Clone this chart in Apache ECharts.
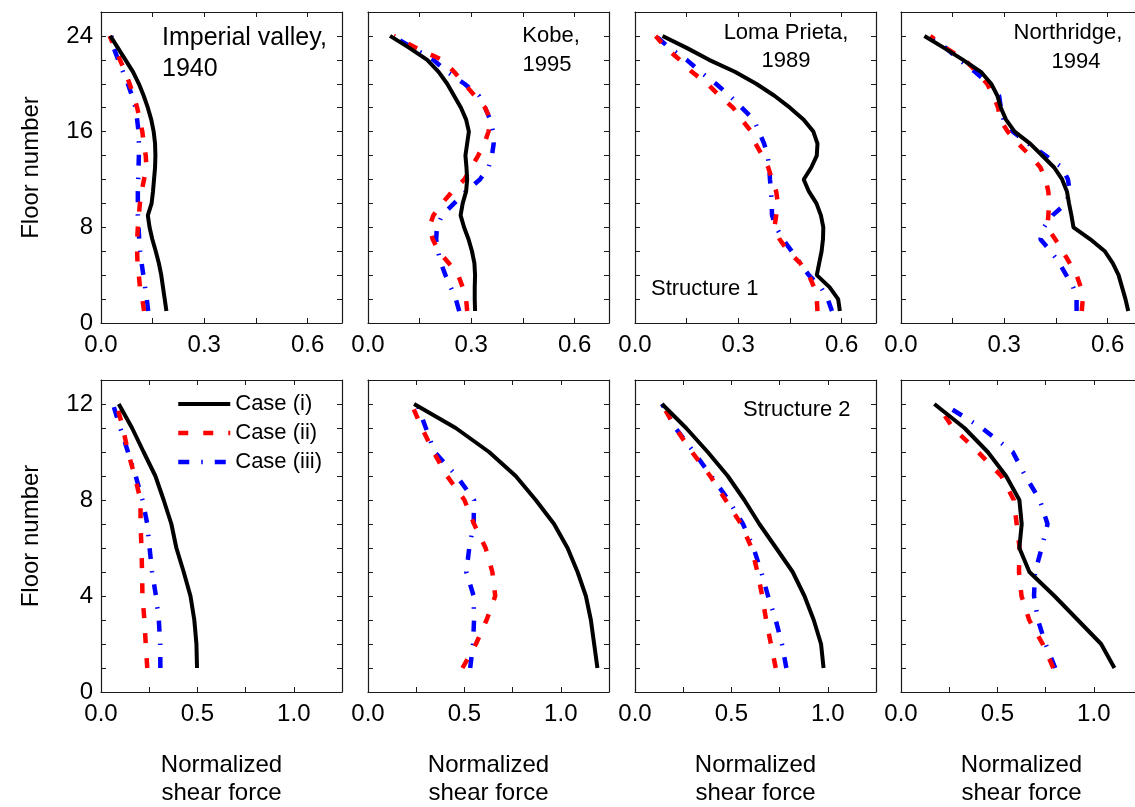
<!DOCTYPE html>
<html>
<head>
<meta charset="utf-8">
<title>Normalized shear force</title>
<script src="https://cdn.jsdelivr.net/npm/echarts@6/dist/echarts.min.js"></script>
<style>
    html, body { margin: 0; padding: 0; background: #fff; }
    #chart { width: 1135px; height: 807px; }
</style>
</head>
<body>
<div id="chart"></div>
<script>
    // floors
    var floorsTop = [1,2,3,4,5,6,7,8,9,10,11,12,13,14,15,16,17,18,19,20,21,22,23,24];
    var floorsBottom = [1,2,3,4,5,6,7,8,9,10,11,12];

    // tick labels
    var xLabelsTop = ['0.0', '0.3', '0.6'];
    var xLabelsBottom = ['0.0', '0.5', '1.0'];
    var yLabelsTop = ['0', '8', '16', '24'];
    var yLabelsBottom = ['0', '4', '8', '12'];

    var caseNames = ['Case (i)', 'Case (ii)', 'Case (iii)'];

    // Structure 1 (24 floors), values from floor 1 to floor 24
    var imperial_i   = [0.19,0.185,0.18,0.175,0.168,0.159,0.149,0.141,0.136,0.147,0.151,0.154,0.157,0.158,0.157,0.153,0.146,0.136,0.124,0.11,0.093,0.071,0.049,0.027];
    var imperial_ii  = [0.125,0.12,0.113,0.11,0.106,0.105,0.105,0.107,0.11,0.113,0.118,0.125,0.132,0.13,0.124,0.12,0.113,0.105,0.095,0.083,0.07,0.055,0.04,0.025];
    var imperial_iii = [0.137,0.133,0.128,0.123,0.118,0.114,0.111,0.109,0.107,0.107,0.107,0.108,0.109,0.11,0.11,0.109,0.105,0.1,0.09,0.078,0.064,0.05,0.037,0.03];

    var kobe_i   = [0.311,0.31,0.31,0.311,0.309,0.302,0.292,0.279,0.269,0.275,0.285,0.288,0.286,0.283,0.288,0.293,0.285,0.27,0.25,0.23,0.205,0.172,0.12,0.064];
    var kobe_ii  = [0.288,0.285,0.275,0.262,0.235,0.205,0.188,0.178,0.19,0.215,0.245,0.28,0.3,0.32,0.338,0.35,0.356,0.34,0.31,0.28,0.25,0.215,0.14,0.075];
    var kobe_iii = [0.265,0.255,0.24,0.225,0.212,0.203,0.198,0.2,0.215,0.25,0.285,0.325,0.35,0.36,0.365,0.363,0.355,0.34,0.322,0.28,0.23,0.19,0.13,0.07];

    var loma_i   = [0.595,0.59,0.565,0.528,0.535,0.542,0.546,0.547,0.54,0.527,0.505,0.49,0.512,0.528,0.53,0.518,0.49,0.45,0.405,0.352,0.29,0.215,0.15,0.08];
    var loma_ii  = [0.53,0.528,0.52,0.505,0.48,0.445,0.42,0.405,0.41,0.415,0.41,0.398,0.387,0.37,0.35,0.338,0.31,0.285,0.245,0.21,0.165,0.13,0.09,0.06];
    var loma_iii = [0.572,0.56,0.54,0.505,0.48,0.455,0.43,0.41,0.398,0.397,0.395,0.392,0.39,0.385,0.375,0.36,0.345,0.31,0.275,0.235,0.19,0.15,0.1,0.06];

    var north_i   = [0.66,0.652,0.642,0.632,0.615,0.592,0.55,0.501,0.495,0.488,0.482,0.468,0.445,0.41,0.375,0.33,0.305,0.29,0.28,0.262,0.232,0.18,0.125,0.068];
    var north_ii  = [0.525,0.528,0.522,0.51,0.49,0.47,0.448,0.425,0.428,0.43,0.428,0.42,0.405,0.375,0.34,0.31,0.288,0.282,0.268,0.25,0.22,0.185,0.13,0.085];
    var north_iii = [0.51,0.51,0.5,0.48,0.46,0.435,0.405,0.415,0.44,0.48,0.49,0.485,0.468,0.42,0.37,0.325,0.298,0.29,0.285,0.255,0.215,0.17,0.13,0.075];

    // Structure 2 (12 floors), values from floor 1 to floor 12
    var imperial2_i   = [0.498,0.495,0.484,0.464,0.429,0.391,0.365,0.325,0.282,0.221,0.161,0.092];
    var imperial2_ii  = [0.24,0.232,0.225,0.215,0.213,0.21,0.205,0.205,0.175,0.14,0.114,0.08];
    var imperial2_iii = [0.308,0.307,0.3,0.285,0.265,0.252,0.24,0.215,0.18,0.14,0.1,0.062];

    var kobe2_i   = [1.19,1.173,1.156,1.13,1.087,1.035,0.965,0.87,0.766,0.628,0.455,0.239];
    var kobe2_ii  = [0.49,0.56,0.615,0.66,0.645,0.61,0.55,0.5,0.41,0.34,0.28,0.225];
    var kobe2_iii = [0.53,0.545,0.55,0.548,0.51,0.525,0.548,0.55,0.46,0.345,0.3,0.255];

    var loma2_i   = [0.978,0.965,0.927,0.879,0.818,0.732,0.645,0.567,0.481,0.377,0.265,0.14];
    var loma2_ii  = [0.73,0.705,0.68,0.66,0.635,0.605,0.55,0.47,0.39,0.295,0.21,0.14];
    var loma2_iii = [0.785,0.762,0.73,0.69,0.655,0.615,0.56,0.485,0.395,0.305,0.21,0.14];

    var north2_i   = [1.107,1.038,0.917,0.796,0.666,0.614,0.626,0.614,0.545,0.45,0.329,0.173];
    var north2_ii  = [0.79,0.735,0.665,0.625,0.612,0.615,0.6,0.585,0.52,0.4,0.27,0.185];
    var north2_iii = [0.8,0.75,0.71,0.69,0.695,0.73,0.76,0.72,0.645,0.58,0.42,0.22];

    var panelData = [
        [imperial_i, imperial_ii, imperial_iii],
        [kobe_i, kobe_ii, kobe_iii],
        [loma_i, loma_ii, loma_iii],
        [north_i, north_ii, north_iii],
        [imperial2_i, imperial2_ii, imperial2_iii],
        [kobe2_i, kobe2_ii, kobe2_iii],
        [loma2_i, loma2_ii, loma2_iii],
        [north2_i, north2_ii, north2_iii]
    ];

    var FONT = 'Liberation Sans, Arial, Helvetica, sans-serif';
    var lefts = [101, 368, 635, 901];
    var colors = ['#000000', '#ff0000', '#0000ff'];
    var lineStyles = [
        { color: colors[0], width: 4, type: 'solid' },
        { color: colors[1], width: 4.5, type: [10, 15], cap: 'butt' },
        { color: colors[2], width: 4.5, type: [11, 12, 1.5, 12], cap: 'butt' }
    ];

    function inList(list, v) {
        for (var i = 0; i < list.length; i++) {
            if (Math.abs(parseFloat(list[i]) - v) < 1e-6) return list[i];
        }
        return '';
    }

    var grids = [], xAxes = [], yAxes = [], series = [];
    var axisColor = '#1a1a1a';

    for (var p = 0; p < 8; p++) {
        var row = p < 4 ? 0 : 1;
        var col = p % 4;
        grids.push({
            left: lefts[col], width: 241,
            top: row ? 380 : 12, height: row ? 312 : 311,
            outerBoundsMode: 'none', containLabel: false
        });
        var xMax = row ? 1.25 : 0.7, xStep = row ? 0.25 : 0.15;
        var yMax = row ? 13 : 26, yStep = row ? 1 : 2;
        var xLab = row ? xLabelsBottom : xLabelsTop;
        var yLab = row ? yLabelsBottom : yLabelsTop;
        var tick = { show: true, inside: true, length: 5, lineStyle: { color: axisColor, width: 1 } };
        var line = { show: true, onZero: false, lineStyle: { color: axisColor, width: 1.2 } };

        (function (xLab, yLab, col) {
            xAxes.push({
                gridIndex: p, type: 'value', position: 'bottom',
                min: 0, max: xMax, interval: xStep,
                axisLine: line, axisTick: tick, splitLine: { show: false },
                axisLabel: {
                    show: true, margin: 10, fontSize: 24, color: '#000', fontFamily: FONT,
                    showMaxLabel: true, showMinLabel: true,
                    formatter: function (v) { return inList(xLab, v); }
                },
                name: row ? 'Normalized\nshear force' : '',
                nameLocation: 'middle', nameGap: 59,
                nameTextStyle: { fontSize: 24, color: '#000', fontFamily: FONT, lineHeight: 28 }
            });
            xAxes.push({
                gridIndex: p, type: 'value', position: 'top',
                min: 0, max: xMax, interval: xStep,
                axisLine: line, axisTick: tick, splitLine: { show: false },
                axisLabel: { show: false }
            });
            yAxes.push({
                gridIndex: p, type: 'value', position: 'left',
                min: 0, max: yMax, interval: yStep,
                axisLine: line, axisTick: tick, splitLine: { show: false },
                axisLabel: {
                    show: col === 0, margin: 8, fontSize: 24, color: '#000', fontFamily: FONT,
                    formatter: function (v) { return inList(yLab, v); }
                },
                name: col === 0 ? 'Floor number' : '',
                nameLocation: 'middle', nameGap: 58,
                nameTextStyle: { fontSize: 24, color: '#000', fontFamily: FONT }
            });
            yAxes.push({
                gridIndex: p, type: 'value', position: 'right',
                min: 0, max: yMax, interval: yStep,
                axisLine: line, axisTick: tick, splitLine: { show: false },
                axisLabel: { show: false }
            });
        })(xLab, yLab, col);

        var floors = row ? floorsBottom : floorsTop;
        for (var c = 0; c < 3; c++) {
            var vals = panelData[p][c];
            series.push({
                name: caseNames[c],
                type: 'line',
                xAxisIndex: 2 * p,
                yAxisIndex: 2 * p,
                symbol: 'none',
                animation: false,
                z: 3 - c,
                itemStyle: { color: colors[c] },
                lineStyle: lineStyles[c],
                data: floors.map(function (f, k) { return [vals[k], f]; })
            });
        }
    }

    function label(x, y, text, size, align) {
        return {
            type: 'text', x: x, y: y, silent: true,
            style: {
                text: text, fontSize: size, fontFamily: FONT, fill: '#000',
                align: align || 'left', verticalAlign: 'middle'
            }
        };
    }

    var myChart = echarts.init(document.getElementById('chart'));
    var option = {
        backgroundColor: '#fff',
        animation: false,
        grid: grids,
        xAxis: xAxes,
        yAxis: yAxes,
        legend: {
            data: caseNames.map(function (n, c) {
                return { name: n, lineStyle: { width: lineStyles[c].width } };
            }),
            orient: 'vertical',
            left: 176, top: 393,
            padding: 0,
            itemWidth: 52, itemHeight: 14, itemGap: 7,
            // hide the symbol drawn in the middle of the line icon
            itemStyle: { opacity: 0, borderWidth: 0 },
            textStyle: { fontSize: 22, color: '#000', fontFamily: FONT, lineHeight: 22 },
            selectedMode: false
        },
        graphic: [
            label(162, 38, 'Imperial valley,', 25),
            label(162, 69, '1940', 25),
            label(551, 36, 'Kobe,', 22, 'center'),
            label(547, 65, '1995', 22, 'center'),
            label(786, 33, 'Loma Prieta,', 22, 'center'),
            label(786, 61, '1989', 22, 'center'),
            label(1068, 33, 'Northridge,', 22, 'center'),
            label(1076, 62, '1994', 22, 'center'),
            label(651, 289, 'Structure 1', 22),
            label(743, 410, 'Structure 2', 22)
        ],
        series: series
    };
    myChart.setOption(option);
</script>
</body>
</html>
